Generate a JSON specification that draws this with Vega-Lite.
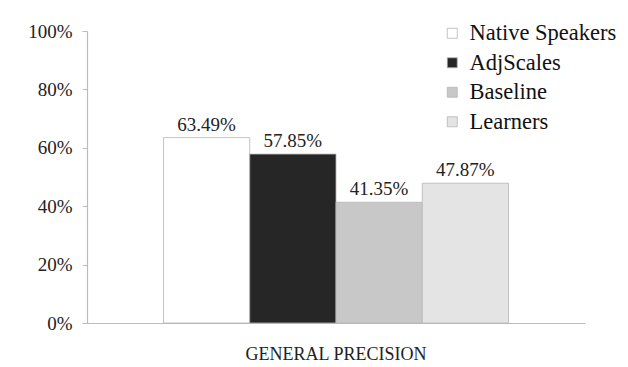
{
  "$schema": "https://vega.github.io/schema/vega-lite/v6.json",
  "width": 498,
  "height": 292,
  "autosize": {"type": "none"},
  "padding": {"left": 87, "top": 31, "right": 43, "bottom": 44},
  "background": "white",
  "config": {
    "view": {"stroke": null},
    "font": "Liberation Serif"
  },
  "data": {
    "values": [
      {"category": "General Precision", "series": "Native Speakers", "value": 0.6349},
      {"category": "General Precision", "series": "AdjScales", "value": 0.5785},
      {"category": "General Precision", "series": "Baseline", "value": 0.4135},
      {"category": "General Precision", "series": "Learners", "value": 0.4787}
    ]
  },
  "encoding": {
    "x": {
      "field": "category",
      "type": "nominal",
      "scale": {"paddingInner": 0, "paddingOuter": 0.2217},
      "axis": {
        "title": null,
        "labelExpr": "upper(datum.label)",
        "labelFont": "Liberation Serif",
        "labelFontSize": 18,
        "labelColor": "#222",
        "labelPadding": 22,
        "labelLimit": 600,
        "labelAngle": 0,
        "ticks": false,
        "domainColor": "#bbbbbb",
        "domainWidth": 1.2
      }
    },
    "xOffset": {
      "field": "series",
      "type": "nominal",
      "sort": ["Native Speakers", "AdjScales", "Baseline", "Learners"],
      "scale": {"paddingInner": 0, "paddingOuter": 0}
    },
    "y": {
      "field": "value",
      "type": "quantitative",
      "scale": {"domain": [0, 1], "nice": false},
      "axis": {
        "title": null,
        "values": [0, 0.2, 0.4, 0.6, 0.8, 1],
        "format": ".0%",
        "grid": false,
        "labelFont": "Liberation Serif",
        "labelFontSize": 19,
        "labelColor": "#222",
        "labelPadding": 10,
        "tickSize": 5,
        "tickColor": "#bbbbbb",
        "domainColor": "#bbbbbb",
        "domainWidth": 1.2
      }
    }
  },
  "layer": [
    {
      "mark": {"type": "bar", "stroke": "#b5b5b5", "strokeWidth": 0.8},
      "encoding": {
        "color": {
          "field": "series",
          "type": "nominal",
          "sort": ["Native Speakers", "AdjScales", "Baseline", "Learners"],
          "scale": {
            "domain": ["Native Speakers", "AdjScales", "Baseline", "Learners"],
            "range": ["#ffffff", "#262626", "#c8c8c8", "#e4e4e4"]
          },
          "legend": {
            "title": null,
            "orient": "none",
            "legendX": 354,
            "legendY": -9,
            "padding": 0,
            "symbolType": "square",
            "symbolSize": 100,
            "symbolStrokeColor": "#b5b5b5",
            "symbolStrokeWidth": 0.8,
            "labelFont": "Liberation Serif",
            "labelFontSize": 22.5,
            "labelColor": "#111",
            "labelOffset": 6,
            "rowPadding": 6.5,
            "labelLimit": 300
          }
        }
      }
    },
    {
      "mark": {"type": "text", "baseline": "bottom", "dy": -3, "font": "Liberation Serif", "fontSize": 19, "color": "#222"},
      "encoding": {
        "text": {"field": "value", "type": "quantitative", "format": ".2%"}
      }
    }
  ]
}
